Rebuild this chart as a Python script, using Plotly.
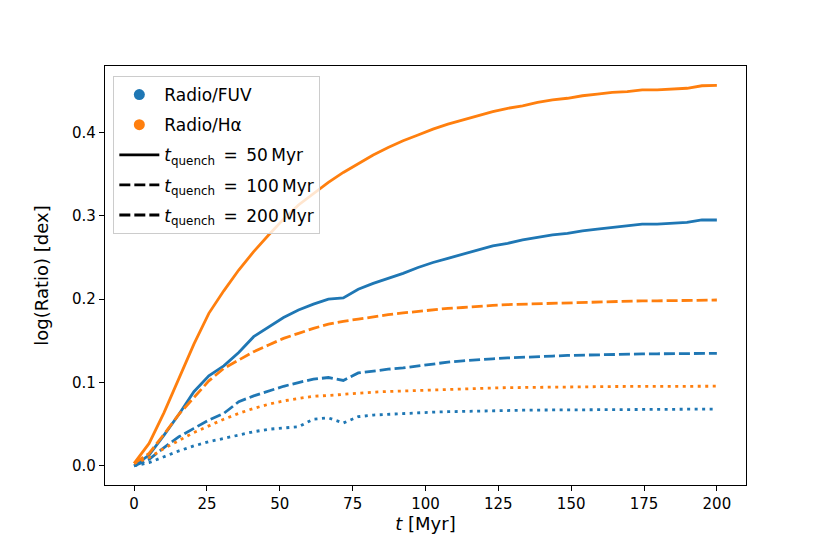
import plotly.graph_objects as go

BLUE = "#1f77b4"
ORANGE = "#ff7f0e"

# time grid of the model runs [Myr]
t = [0.00, 5.13, 10.26, 15.38, 20.51, 25.64, 30.77, 35.90, 41.03, 46.15,
     51.28, 56.41, 61.54, 66.67, 71.79, 76.92, 82.05, 87.18, 92.31, 97.44,
     102.56, 107.69, 112.82, 117.95, 123.08, 128.21, 133.33, 138.46, 143.59, 148.72,
     153.85, 158.97, 164.10, 169.23, 174.36, 179.49, 184.62, 189.74, 194.87, 200.00]

# log(Radio/FUV)
fuv_50 = [0.000, 0.013, 0.037, 0.062, 0.089, 0.108, 0.120, 0.136, 0.155, 0.167,
          0.178, 0.187, 0.194, 0.200, 0.2015, 0.212, 0.219, 0.225, 0.231, 0.238,
          0.244, 0.249, 0.254, 0.259, 0.264, 0.267, 0.271, 0.274, 0.277, 0.279,
          0.282, 0.284, 0.286, 0.288, 0.290, 0.290, 0.291, 0.292, 0.295, 0.295]
fuv_100 = [0.000, 0.008, 0.022, 0.035, 0.045, 0.055, 0.063, 0.077, 0.084, 0.090,
           0.0955, 0.100, 0.104, 0.1060, 0.1025, 0.1115, 0.114, 0.116, 0.1175, 0.120,
           0.122, 0.1245, 0.126, 0.1275, 0.1285, 0.1295, 0.1305, 0.131, 0.1318, 0.1325,
           0.133, 0.1335, 0.1338, 0.134, 0.1343, 0.1345, 0.1347, 0.1348, 0.1349, 0.135]
fuv_200 = [0.000, 0.004, 0.011, 0.018, 0.024, 0.029, 0.033, 0.037, 0.041, 0.044,
           0.0455, 0.047, 0.056, 0.0576, 0.0515, 0.059, 0.061, 0.062, 0.063, 0.0638,
           0.0645, 0.065, 0.0655, 0.066, 0.0663, 0.0666, 0.0668, 0.067, 0.0672, 0.0674,
           0.0675, 0.0676, 0.0677, 0.0678, 0.0678, 0.0679, 0.0679, 0.068, 0.068, 0.068]

# log(Radio/Halpha)
ha_50 = [0.003, 0.027, 0.064, 0.104, 0.146, 0.183, 0.210, 0.235, 0.257, 0.277,
         0.296, 0.313, 0.327, 0.340, 0.352, 0.363, 0.373, 0.382, 0.390, 0.397,
         0.404, 0.410, 0.415, 0.420, 0.425, 0.429, 0.432, 0.436, 0.439, 0.441,
         0.444, 0.446, 0.448, 0.449, 0.451, 0.451, 0.452, 0.453, 0.456, 0.4565]
ha_100 = [0.003, 0.015, 0.038, 0.062, 0.082, 0.102, 0.117, 0.127, 0.137, 0.145,
          0.153, 0.159, 0.165, 0.170, 0.1735, 0.176, 0.179, 0.1815, 0.1835, 0.1855,
          0.187, 0.189, 0.190, 0.1915, 0.1925, 0.1935, 0.194, 0.195, 0.1955, 0.196,
          0.1965, 0.197, 0.1973, 0.1976, 0.198, 0.198, 0.1983, 0.1985, 0.199, 0.199]
ha_200 = [0.003, 0.010, 0.021, 0.031, 0.040, 0.048, 0.056, 0.063, 0.069, 0.074,
          0.078, 0.081, 0.0835, 0.0845, 0.0860, 0.0873, 0.0885, 0.0893, 0.0900, 0.0907,
          0.0912, 0.0918, 0.0924, 0.0930, 0.0935, 0.0939, 0.0942, 0.0945, 0.0947, 0.0949,
          0.0950, 0.0951, 0.0952, 0.0953, 0.0954, 0.0954, 0.0955, 0.0955, 0.0956, 0.0956]

LW = 2.8
DASH = "11px,4px"
DOT = "3px,4.5px"

fig = go.Figure()

curves = [
    (fuv_50, BLUE, "solid"), (fuv_100, BLUE, DASH), (fuv_200, BLUE, DOT),
    (ha_50, ORANGE, "solid"), (ha_100, ORANGE, DASH), (ha_200, ORANGE, DOT),
]
for vals, col, dash in curves:
    fig.add_trace(go.Scatter(x=t, y=vals, mode="lines", showlegend=False,
                             line=dict(color=col, width=LW, dash=dash)))

# legend-only entries (the original shows the 200 Myr entry dashed too)
fig.add_trace(go.Scatter(x=[None], y=[None], mode="markers", name="Radio/FUV",
                         legendgroup="a", marker=dict(color=BLUE, size=11)))
fig.add_trace(go.Scatter(x=[None], y=[None], mode="markers", name="Radio/Hα",
                         legendgroup="b", marker=dict(color=ORANGE, size=11)))
for tq in ["50", "100", "200"]:
    fig.add_trace(go.Scatter(
        x=[None], y=[None], mode="lines", legendgroup="q" + tq,
        name="<i>t</i><sub>quench</sub>\u2002=\u2002" + tq + "\u2009Myr",
        line=dict(color="black", width=LW, dash="solid" if tq == "50" else DASH)))

axis_style = dict(showline=True, mirror=True, linecolor="black", linewidth=1.2,
                  ticks="outside", ticklen=5, tickwidth=1.2, tickcolor="black",
                  showgrid=False, zeroline=False,
                  tickfont=dict(size=15, color="black"))

# page body adds an 8px margin, so the figure is drawn 8px smaller
fig.update_layout(
    width=822, height=546,
    margin=dict(l=97, r=84, t=58, b=69),
    plot_bgcolor="white", paper_bgcolor="white",
    font=dict(family="DejaVu Sans", size=15, color="black"),
    showlegend=True,
    legend=dict(x=0.013, y=0.976, xanchor="left", yanchor="top",
                bgcolor="rgba(255,255,255,0.8)", bordercolor="#cccccc", borderwidth=1,
                font=dict(size=17), tracegroupgap=5, itemwidth=40),
)
fig.update_xaxes(range=[-10, 210], tickvals=[0, 25, 50, 75, 100, 125, 150, 175, 200],
                 title=dict(text="<i>t</i> [Myr]", standoff=4), **axis_style)
fig.update_yaxes(range=[-0.0229, 0.4797], tickvals=[0.0, 0.1, 0.2, 0.3, 0.4],
                 tickformat=".1f", title=dict(text="log(Ratio) [dex]", standoff=18),
                 **axis_style)

fig.write_html("out.html")
